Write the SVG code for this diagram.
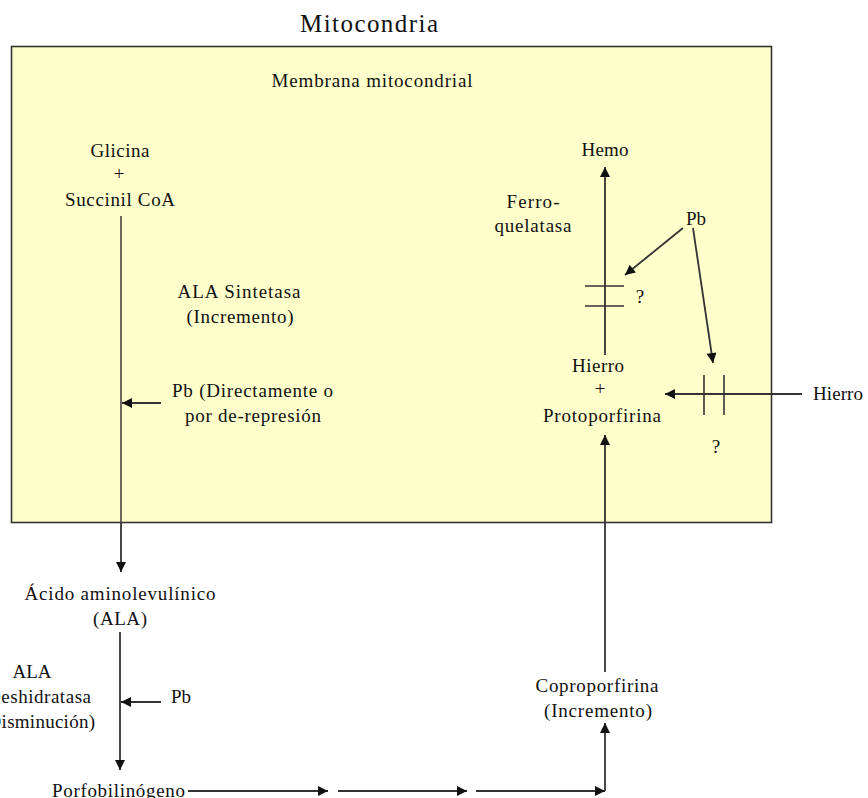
<svg xmlns="http://www.w3.org/2000/svg" width="868" height="798" viewBox="0 0 868 798">
<defs>
<marker id="ah" viewBox="0 0 10 10" refX="10" refY="5" markerWidth="11" markerHeight="10" markerUnits="userSpaceOnUse" orient="auto">
<path d="M0,0 L10,5 L0,10 Z" fill="#111"/>
</marker>
</defs>
<style>
text{font-family:"Liberation Serif","Times New Roman",serif;font-size:19px;fill:#111}
.c{text-anchor:middle}
.ln{stroke:#444;stroke-width:1.6;fill:none}
.ar{stroke:#333;stroke-width:1.8;fill:none;marker-end:url(#ah)}
.bar{stroke:#333;stroke-width:1.6}
</style>
<rect width="868" height="798" fill="#fff"/>
<g id="title"><text x="369" y="32" class="c" style="font-size:25px" textLength="138">Mitocondria</text></g>
<g id="mitocondria">
<rect x="11.5" y="46.5" width="760" height="476" fill="#FFFFCC" stroke="#333" stroke-width="1.6"/>
<text x="372" y="87" class="c" textLength="201">Membrana mitocondrial</text>
</g>
<g id="glicina">
<text x="120" y="157" class="c" textLength="59">Glicina</text>
<text x="119" y="180" class="c">+</text>
<text x="120" y="206" class="c" textLength="110">Succinil CoA</text>
</g>
<g id="ala-sintetasa">
<text x="239" y="298" class="c" textLength="123">ALA Sintetasa</text>
<text x="240" y="323" class="c" textLength="107">(Incremento)</text>
</g>
<g id="pb1">
<text x="172" y="397" textLength="161">Pb (Directamente o</text>
<text x="185" y="422" textLength="136">por de-represión</text>
</g>
<g id="hemo"><text x="605" y="156" class="c" textLength="47">Hemo</text></g>
<g id="ferroquelatasa">
<text x="533" y="208" class="c" textLength="53">Ferro-</text>
<text x="533" y="232" class="c" textLength="77">quelatasa</text>
</g>
<g id="pb2"><text x="686" y="225">Pb</text></g>
<g id="q1"><text x="640" y="303" class="c">?</text></g>
<g id="hierro-proto">
<text x="598" y="372" class="c" textLength="52">Hierro</text>
<text x="600" y="395" class="c">+</text>
<text x="602" y="422" class="c" textLength="118">Protoporfirina</text>
</g>
<g id="hierro-ext"><text x="813" y="400" textLength="50">Hierro</text></g>
<g id="q2"><text x="716" y="453" class="c">?</text></g>
<g id="ala">
<text x="120" y="600" class="c" textLength="191">Ácido aminolevulínico</text>
<text x="120" y="625" class="c" textLength="54">(ALA)</text>
</g>
<g id="ala-deshidratasa">
<text x="32" y="678" class="c">ALA</text>
<text x="91" y="703" style="text-anchor:end" textLength="104">Deshidratasa</text>
<text x="95" y="728" style="text-anchor:end" textLength="114">(Disminución)</text>
</g>
<g id="pb3"><text x="171" y="703">Pb</text></g>
<g id="porfobilinogeno"><text x="52" y="797" textLength="133">Porfobilinógeno</text></g>
<g id="coproporfirina">
<text x="597" y="692" class="c" textLength="123">Coproporfirina</text>
<text x="598" y="717" class="c" textLength="108">(Incremento)</text>
</g>
<g id="connectors">
<line class="ln" x1="121" y1="216" x2="121" y2="523"/>
<line class="ar" x1="121" y1="523" x2="121" y2="572"/>
<line class="ar" x1="161" y1="403" x2="122" y2="403"/>
<line class="ar" x1="605" y1="355" x2="605" y2="167"/>
<line class="bar" x1="585" y1="286" x2="624" y2="286"/>
<line class="bar" x1="585" y1="306" x2="624" y2="306"/>
<line class="ar" x1="683" y1="228" x2="625" y2="275"/>
<line class="ar" x1="693" y1="228" x2="713" y2="363"/>
<line class="ar" x1="802" y1="394" x2="665" y2="394"/>
<line class="bar" x1="704" y1="375" x2="704" y2="415"/>
<line class="bar" x1="724" y1="375" x2="724" y2="415"/>
<line class="ar" x1="605" y1="672" x2="605" y2="435"/>
<line class="ar" x1="120" y1="632" x2="120" y2="770"/>
<line class="ar" x1="161" y1="702" x2="121" y2="702"/>
<line class="ar" x1="188" y1="791" x2="328" y2="791"/>
<line class="ar" x1="338" y1="791" x2="467" y2="791"/>
<line class="ar" x1="476" y1="791" x2="605" y2="791"/>
<line class="ar" x1="605" y1="791" x2="605" y2="723"/>
</g>
</svg>
